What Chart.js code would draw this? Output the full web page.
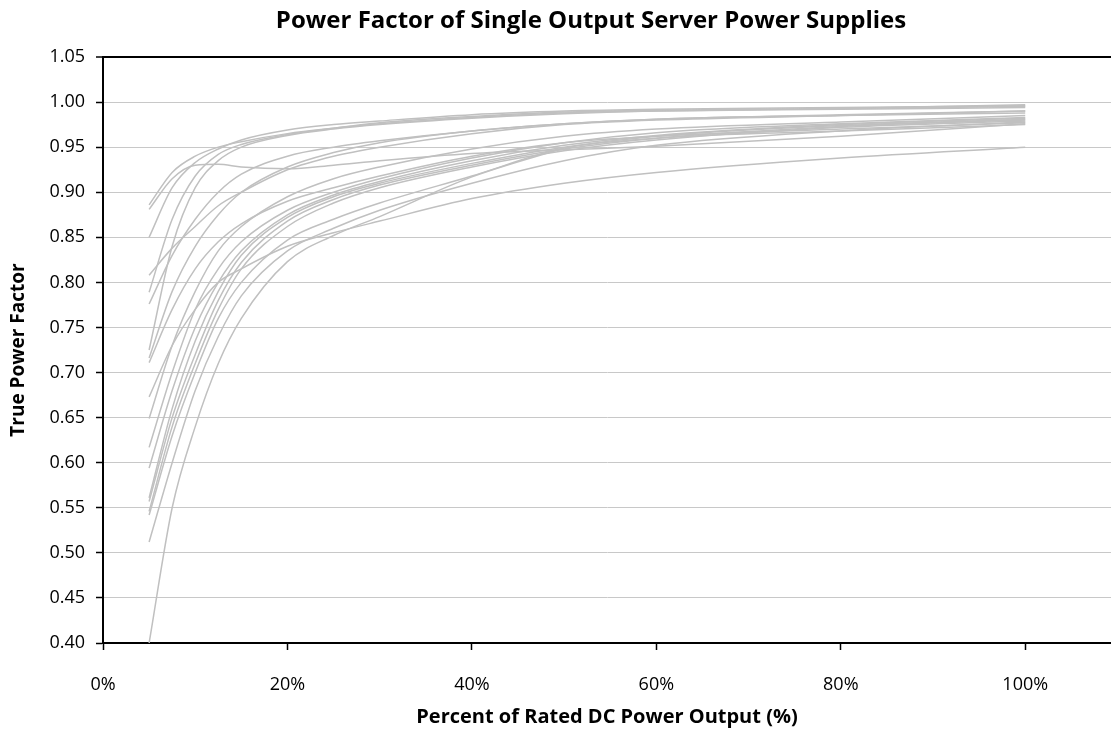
<!DOCTYPE html>
<html>
<head>
<meta charset="utf-8">
<script src="https://cdn.jsdelivr.net/npm/chart.js@4.4.0/dist/chart.umd.min.js"></script>
<style>
    html, body { margin: 0; padding: 0; background: #fff; }
    #wrap { width: 1111px; height: 736px; }
</style>
</head>
<body>
<div id="wrap"><canvas id="pfChart"></canvas></div>
<script>
// Load points (% of rated DC output) shared by all supplies
const loadPct = [5, 7.5, 10, 12.5, 15, 20, 25, 30, 40, 50, 60, 80, 100];

// True power factor of each supply
const psu01 = [0.886, 0.922, 0.940, 0.950, 0.956, 0.965, 0.971, 0.976, 0.983, 0.988, 0.990, 0.992, 0.994];
const psu02 = [0.881, 0.915, 0.930, 0.931, 0.928, 0.926, 0.930, 0.935, 0.943, 0.947, 0.951, 0.962, 0.976];
const psu03 = [0.850, 0.905, 0.933, 0.948, 0.958, 0.969, 0.975, 0.979, 0.986, 0.990, 0.992, 0.994, 0.996];
const psu04 = [0.808, 0.838, 0.862, 0.885, 0.900, 0.925, 0.940, 0.950, 0.965, 0.975, 0.980, 0.985, 0.990];
const psu05 = [0.789, 0.870, 0.918, 0.942, 0.953, 0.964, 0.971, 0.977, 0.984, 0.989, 0.991, 0.993, 0.995];
const psu06 = [0.776, 0.830, 0.870, 0.900, 0.920, 0.940, 0.950, 0.957, 0.968, 0.976, 0.981, 0.986, 0.990];
const psu07 = [0.725, 0.840, 0.905, 0.935, 0.950, 0.963, 0.970, 0.975, 0.982, 0.987, 0.990, 0.993, 0.997];
const psu08 = [0.716, 0.790, 0.840, 0.875, 0.900, 0.928, 0.944, 0.955, 0.968, 0.976, 0.981, 0.985, 0.988];
const psu09 = [0.711, 0.770, 0.815, 0.845, 0.865, 0.890, 0.905, 0.918, 0.940, 0.955, 0.962, 0.970, 0.977];
const psu10 = [0.673, 0.730, 0.770, 0.800, 0.815, 0.840, 0.855, 0.868, 0.893, 0.910, 0.922, 0.938, 0.950];
const psu11 = [0.649, 0.730, 0.790, 0.835, 0.862, 0.895, 0.915, 0.928, 0.948, 0.962, 0.970, 0.978, 0.985];
const psu12 = [0.617, 0.700, 0.770, 0.815, 0.845, 0.880, 0.900, 0.915, 0.938, 0.955, 0.966, 0.976, 0.983];
const psu13 = [0.594, 0.680, 0.750, 0.800, 0.835, 0.875, 0.897, 0.912, 0.935, 0.952, 0.963, 0.975, 0.982];
const psu14 = [0.561, 0.660, 0.735, 0.790, 0.830, 0.872, 0.895, 0.910, 0.932, 0.950, 0.962, 0.974, 0.981];
const psu15 = [0.557, 0.650, 0.720, 0.780, 0.822, 0.868, 0.892, 0.908, 0.930, 0.948, 0.960, 0.973, 0.980];
const psu16 = [0.546, 0.640, 0.710, 0.770, 0.815, 0.862, 0.888, 0.905, 0.928, 0.946, 0.958, 0.972, 0.979];
const psu17 = [0.542, 0.630, 0.700, 0.760, 0.800, 0.847, 0.870, 0.888, 0.918, 0.949, 0.960, 0.968, 0.975];
const psu18 = [0.512, 0.600, 0.680, 0.740, 0.785, 0.835, 0.860, 0.880, 0.910, 0.935, 0.952, 0.968, 0.978];
const psu19 = [0.400, 0.550, 0.640, 0.710, 0.760, 0.823, 0.852, 0.873, 0.917, 0.949, null, null, null];

const allSupplies = [psu01, psu02, psu03, psu04, psu05, psu06, psu07, psu08, psu09, psu10,
                     psu11, psu12, psu13, psu14, psu15, psu16, psu17, psu18, psu19];

// Axis ticks
const xTickValues = [0, 20, 40, 60, 80, 100];
const yTickValues = [0.40, 0.45, 0.50, 0.55, 0.60, 0.65, 0.70, 0.75, 0.80, 0.85, 0.90, 0.95, 1.00, 1.05];

const CHART_TITLE = 'Power Factor of Single Output Server Power Supplies';
const FONT = "'Open Sans', 'Noto Sans', sans-serif";

const datasets = allSupplies.map(function(vals, i) {
    return {
        label: 'PSU ' + (i + 1),
        data: loadPct.map((x, j) => ({ x: x, y: vals[j] })).filter(p => p.y !== null),
        borderColor: '#c0c0c0',
        borderWidth: 1.5,
        pointRadius: 0,
        fill: false,
        cubicInterpolationMode: 'monotone'
    };
});

function isTop(ctx) {
    return ctx.tick && Math.abs(ctx.tick.value - 1.05) < 1e-6;
}

// Title sits a little right of the canvas centre, as in the original
const titlePlugin = {
    id: 'offsetTitle',
    afterDraw: function(chart) {
        const ctx = chart.ctx;
        ctx.save();
        ctx.fillStyle = '#000';
        ctx.font = 'bold 24px ' + FONT;
        ctx.textAlign = 'center';
        ctx.textBaseline = 'middle';
        ctx.fillText(CHART_TITLE, 591, 21);
        ctx.restore();
    }
};

new Chart(document.getElementById('pfChart'), {
    type: 'line',
    data: { datasets: datasets },
    plugins: [titlePlugin],
    options: {
        responsive: true,
        maintainAspectRatio: false,
        animation: false,
        layout: { padding: { top: 57, left: 0, right: 0, bottom: 0 } },
        plugins: {
            legend: { display: false },
            tooltip: { enabled: false },
            title: { display: false }
        },
        scales: {
            x: {
                type: 'linear',
                min: 0,
                max: 109.3,
                afterBuildTicks: function(scale) {
                    scale.ticks = xTickValues.map(v => ({ value: v }));
                },
                afterFit: function(scale) { scale.height = 93; },
                ticks: {
                    color: '#000',
                    font: { family: FONT, size: 18 },
                    padding: 24,
                    maxRotation: 0,
                    callback: v => v + '%'
                },
                grid: {
                    drawOnChartArea: false,
                    drawTicks: true,
                    tickLength: 7,
                    tickColor: '#000',
                    tickWidth: 1.5
                },
                border: { display: true, color: '#000', width: 2 },
                title: {
                    display: true,
                    text: 'Percent of Rated DC Power Output (%)',
                    color: '#000',
                    font: { family: FONT, size: 20, weight: 'bold', lineHeight: 1.2 },
                    padding: { top: 10, bottom: 7 }
                }
            },
            y: {
                type: 'linear',
                min: 0.40,
                max: 1.05,
                afterBuildTicks: function(scale) {
                    scale.ticks = yTickValues.map(v => ({ value: v }));
                },
                afterFit: function(scale) { scale.width = 103; },
                ticks: {
                    color: '#000',
                    font: { family: FONT, size: 18 },
                    padding: 11,
                    callback: v => Number(v).toFixed(2)
                },
                grid: {
                    color: ctx => isTop(ctx) ? '#000' : '#c8c8c8',
                    lineWidth: ctx => isTop(ctx) ? 2 : 1,
                    tickLength: 7,
                    tickColor: '#000',
                    tickWidth: 1.5
                },
                border: { display: true, color: '#000', width: 2 },
                title: {
                    display: true,
                    text: 'True Power Factor',
                    color: '#000',
                    font: { family: FONT, size: 19, weight: 'bold', lineHeight: 1.2 },
                    padding: { top: 7, bottom: 4 }
                }
            }
        }
    }
});
</script>
</body>
</html>
